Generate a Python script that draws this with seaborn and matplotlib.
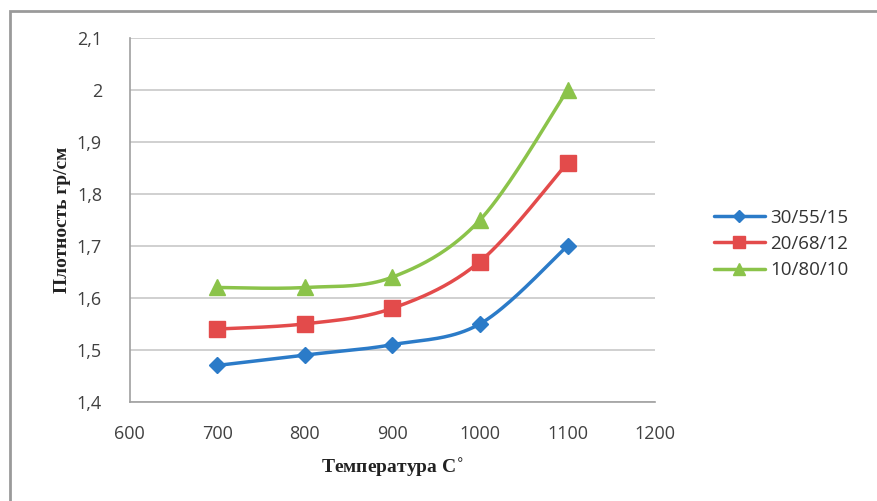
import numpy as np
import pandas as pd
import matplotlib
matplotlib.use("Agg")
import matplotlib.pyplot as plt
import seaborn as sns
from matplotlib.patches import Rectangle
from matplotlib.ticker import FuncFormatter

temps = [700, 800, 900, 1000, 1100]
series_names = ["30/55/15", "20/68/12", "10/80/10"]
dens_30_55_15 = [1.47, 1.49, 1.51, 1.55, 1.70]
dens_20_68_12 = [1.54, 1.55, 1.58, 1.67, 1.86]
dens_10_80_10 = [1.62, 1.62, 1.64, 1.75, 2.00]

colors = ["#2B7BC8", "#E34B4B", "#8BC34A"]
markers = ["D", "s", "^"]
msizes = [8, 11, 12]

df = pd.DataFrame({
    "temp": temps * 3,
    "dens": dens_30_55_15 + dens_20_68_12 + dens_10_80_10,
    "series": np.repeat(series_names, len(temps)),
})


def smooth(x, y, xr=600.0, yr=0.7, n=40):
    # Excel-like smoothed line (Catmull-Rom style cubic Bezier)
    x = np.asarray(x, float) / xr
    y = np.asarray(y, float) / yr
    px = np.concatenate([[x[0]], x, [x[-1]]])
    py = np.concatenate([[y[0]], y, [y[-1]]])
    t = np.linspace(0, 1, n)[:, None]
    xs, ys = [], []
    for i in range(1, len(px) - 2):
        p0 = np.array([px[i], py[i]])
        p3 = np.array([px[i + 1], py[i + 1]])
        c1 = p0 + (p3 - np.array([px[i - 1], py[i - 1]])) / 6
        c2 = p3 - (np.array([px[i + 2], py[i + 2]]) - p0) / 6
        b = ((1 - t) ** 3) * p0 + 3 * ((1 - t) ** 2) * t * c1 + 3 * (1 - t) * t ** 2 * c2 + t ** 3 * p3
        xs.append(b[:, 0])
        ys.append(b[:, 1])
    return np.concatenate(xs) * xr, np.concatenate(ys) * yr


sns.set_style("white")
plt.rcParams["font.family"] = ["Open Sans", "DejaVu Sans"]

fig = plt.figure(figsize=(8.77, 5.01), dpi=100)
ax = fig.add_axes([0.148, 0.198, 0.599, 0.726])

for name, c, m, ms in zip(series_names, colors, markers, msizes):
    sub = df[df["series"] == name]
    sx, sy = smooth(sub["temp"], sub["dens"])
    ax.plot(sx, sy, color=c, lw=2.5, zorder=3)
    ax.plot(sub["temp"], sub["dens"], linestyle="none", marker=m, color=c,
            markersize=ms, zorder=4)
    ax.plot([], [], color=c, lw=2.5, marker=m, markersize=ms * 0.75, label=name)

ax.set_xlim(600, 1200)
ax.set_ylim(1.4, 2.1)
ax.set_xticks(np.arange(600, 1201, 100))
ax.set_yticks(np.arange(1.4, 2.101, 0.1))
ax.yaxis.set_major_formatter(FuncFormatter(lambda v, p: f"{v:.1f}".replace(".", ",").replace(",0", "")))
ax.grid(axis="y", color="#C8C8C8", lw=1.2)
ax.grid(axis="x", visible=False)
for s in ["top", "right"]:
    ax.spines[s].set_visible(False)
for s in ["left", "bottom"]:
    ax.spines[s].set_color("#A0A0A0")
    ax.spines[s].set_linewidth(1.2)
ax.tick_params(axis="x", direction="out", length=5, color="#A0A0A0", labelsize=13,
               labelcolor="#404040", pad=12)
ax.tick_params(axis="y", length=0, labelsize=13, labelcolor="#404040", pad=20)

ax.set_xlabel("Температура C$^{\\circ}$", family="Liberation Serif", fontweight="bold",
              fontsize=14, color="#222222", labelpad=10)
ax.set_ylabel("Плотность гр/см", family="Liberation Serif", fontweight="bold",
              fontsize=14, color="#222222", labelpad=4)

leg = ax.legend(loc="center left", bbox_to_anchor=(1.08, 0.434), frameon=False,
                fontsize=13.5, handlelength=2.7, labelspacing=0.45, handletextpad=0.3)
for t in leg.get_texts():
    t.set_color("#333333")

fig.patches.append(Rectangle((0.011, -0.01), 0.99, 0.988, transform=fig.transFigure,
                             fill=False, edgecolor="#9A9A9A", lw=2))

fig.savefig("out.png", dpi=100)
